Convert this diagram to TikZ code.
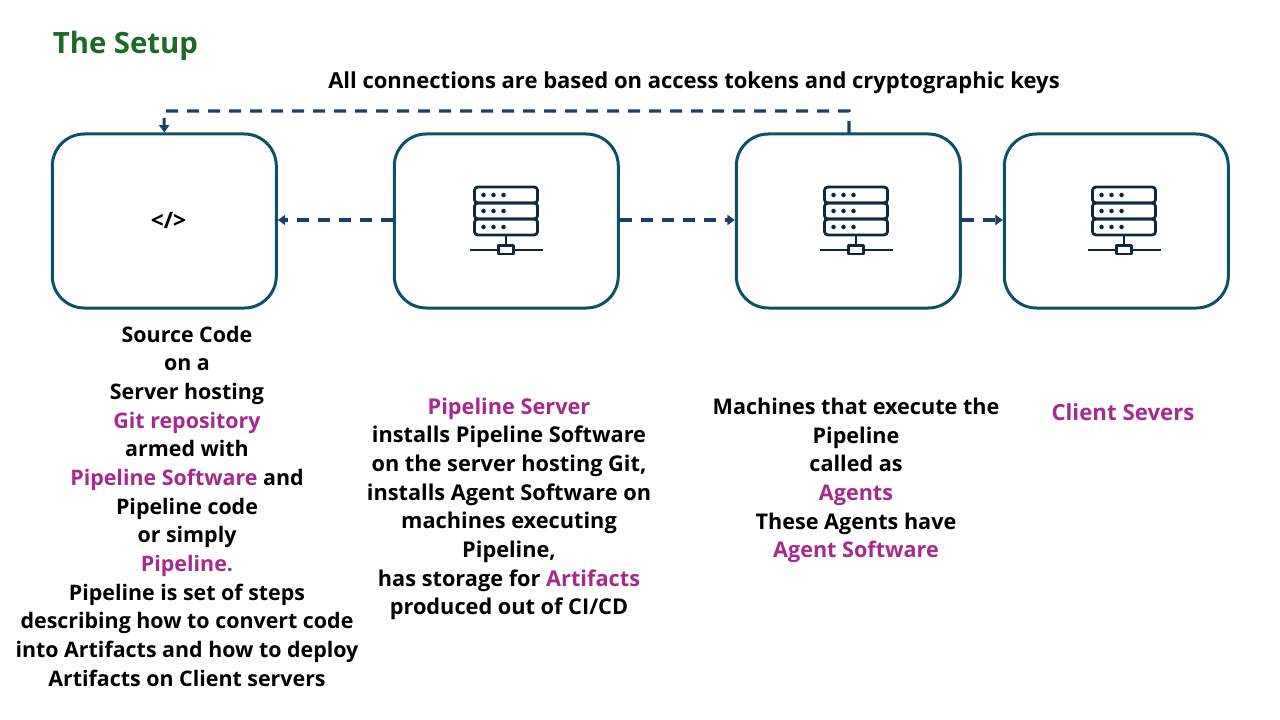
\documentclass[tikz,border=0pt]{standalone}
\usepackage{fontspec}
\setmainfont{Open Sans}
\usetikzlibrary{arrows.meta}
\definecolor{boxc}{HTML}{0B5168}
\definecolor{linkc}{HTML}{1B3F66}
\definecolor{iconc}{HTML}{0E2841}
\definecolor{pur}{HTML}{A52A8F}
\definecolor{ttl}{HTML}{1A6B25}
\newcommand{\hl}[1]{\textcolor{pur}{#1}}
\tikzset{
  x=0.75pt,y=-0.75pt,
  panel/.style={draw=boxc,line width=2.25pt,rounded corners=24pt,minimum width=168pt,minimum height=130.5pt,inner sep=0pt},
  link/.style={draw=linkc,line width=2.3pt,dash pattern=on 9pt off 6.75pt,-{Triangle[length=5.5pt,width=7.5pt]}},
  lbl/.style={align=center,font=\fontsize{#1}{21.5}\selectfont\bfseries,inner sep=0pt,text=black},
  iconline/.style={draw=iconc,line width=2.1pt,line join=round},
}
\newcommand{\servericon}[1]{%
  \begin{scope}[shift={(#1,0)}]
    \draw[iconline,rounded corners=2.5pt] (-31.5,187) rectangle (31.5,203);
    \draw[iconline,rounded corners=2.5pt] (-31.5,203) rectangle (31.5,219);
    \draw[iconline,rounded corners=2.5pt] (-31.5,219) rectangle (31.5,235);
    \foreach \yy in {195,211,227}\foreach \xx in {-22.5,-12.5,-2.5}
      \fill[iconc] (\xx,\yy) circle (1.7pt);
    \draw[iconline] (0,235) -- (0,245);
    \draw[iconline] (-36.5,250) -- (-7.5,250);
    \draw[iconline] (7.5,250) -- (36.5,250);
    \draw[iconline] (-7.5,245.5) rectangle (7.5,254);
  \end{scope}}
\begin{document}
\begin{tikzpicture}
\useasboundingbox (0,0) rectangle (1280,720);
\node[panel] (b1) at (164.3,221) {};
\node[panel] (b2) at (506.3,221) {};
\node[panel] (b3) at (848.3,221) {};
\node[panel] (b4) at (1116.3,221) {};
\servericon{506}\servericon{856}\servericon{1124}
\node[font=\fontsize{17}{18}\selectfont\bfseries,inner sep=0pt] (code) at (168.5,220.5) {</>};
\node[anchor=west,text=ttl,font=\fontsize{22}{26}\selectfont\bfseries,inner sep=0pt] (title) at (52.5,46) {The Setup};
\node[lbl=16.5] (note) at (694,83) {All connections are based on access tokens and cryptographic keys};
\node[lbl=16.05] (t1) at (187,506.3) {Source Code\\on a\\Server hosting\\\hl{Git repository}\\armed with\\\hl{Pipeline Software} and\\Pipeline code\\or simply\\\hl{Pipeline.}\\Pipeline is set of steps\\describing how to convert code\\into Artifacts and how to deploy\\Artifacts on Client servers};
\node[lbl=16.3] (t2) at (509,509) {\hl{Pipeline Server}\\installs Pipeline Software\\on the server hosting Git,\\installs Agent Software on\\machines executing\\Pipeline,\\has storage for \hl{Artifacts}\\produced out of CI/CD};
\node[lbl=16.2] (t3) at (856,480.5) {Machines that execute the\\Pipeline\\called as\\\hl{Agents}\\These Agents have\\\hl{Agent Software}};
\node[lbl=16.7] (t4) at (1123,412) {\hl{Client Severs}};
\coordinate (lvl) at (0,220);
\draw[link] (b2.west |- lvl) -- (b1.east |- lvl);
\draw[link] (b2.east |- lvl) -- (b3.west |- lvl);
\draw[link] (b3.east |- lvl) -- (b4.west |- lvl);
\coordinate (start) at (849,133);
\coordinate (turnR) at (849,111);
\coordinate (turnL) at (164,111);
\draw[link] (start) -- (turnR) -- (turnL) -- (b1.north);
\end{tikzpicture}
\end{document}
